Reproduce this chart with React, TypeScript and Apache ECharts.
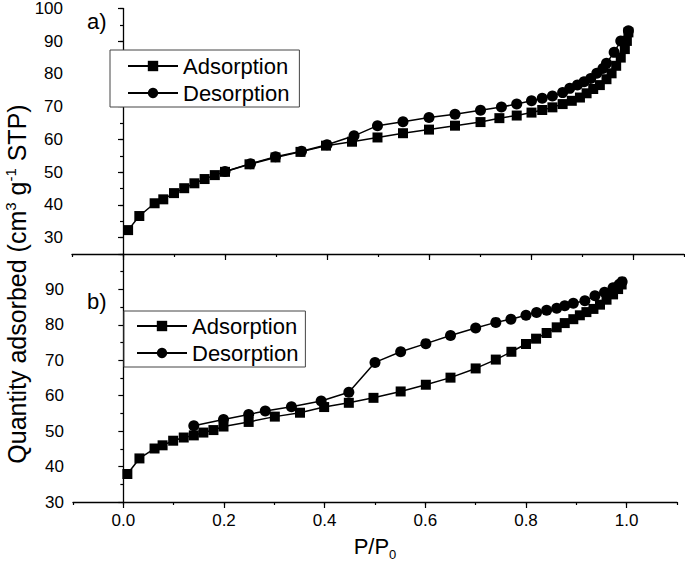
import React, { useEffect, useRef } from "react";
import * as echarts from "echarts";

const FONT = "'Liberation Sans', Arial, sans-serif";

const topAdsX = [0.010, 0.032, 0.062, 0.079, 0.100, 0.120, 0.140, 0.160, 0.180, 0.200, 0.248, 0.299, 0.348, 0.398, 0.449, 0.499, 0.549, 0.600, 0.651, 0.701, 0.738, 0.772, 0.801, 0.822, 0.842, 0.862, 0.880, 0.896, 0.909, 0.922, 0.935, 0.948, 0.958, 0.967, 0.976, 0.984, 0.988, 0.991];
const topAdsY = [32.3, 36.6, 40.5, 41.7, 43.6, 45.1, 46.6, 47.9, 49.1, 50.1, 52.4, 54.5, 56.2, 58.1, 59.3, 60.6, 61.9, 63.0, 64.2, 65.3, 66.5, 67.3, 68.2, 69.0, 69.8, 70.8, 71.8, 72.8, 74.1, 75.4, 76.6, 78.4, 80.2, 82.5, 85.0, 87.6, 90.1, 92.7];

const topDesX = [0.991, 0.976, 0.963, 0.948, 0.941, 0.929, 0.917, 0.904, 0.891, 0.876, 0.862, 0.842, 0.822, 0.801, 0.772, 0.742, 0.701, 0.651, 0.600, 0.549, 0.499, 0.453, 0.400, 0.350, 0.299, 0.250, 0.200];
const topDesY = [93.2, 90.1, 86.6, 83.3, 81.7, 80.2, 78.6, 77.6, 76.6, 75.6, 74.3, 73.3, 72.6, 71.8, 70.8, 69.9, 68.9, 67.7, 66.7, 65.4, 64.2, 61.1, 58.4, 56.4, 54.7, 52.6, 50.2];

const botAdsX = [0.008, 0.032, 0.062, 0.078, 0.099, 0.120, 0.140, 0.159, 0.179, 0.199, 0.249, 0.301, 0.351, 0.399, 0.448, 0.497, 0.551, 0.601, 0.650, 0.700, 0.740, 0.771, 0.800, 0.820, 0.841, 0.861, 0.877, 0.894, 0.907, 0.920, 0.934, 0.947, 0.960, 0.973, 0.983, 0.990];
const botAdsY = [37.9, 42.3, 45.1, 46.0, 47.3, 48.2, 48.8, 49.6, 50.3, 51.3, 52.6, 54.1, 55.2, 56.8, 58.0, 59.4, 61.2, 63.1, 65.1, 67.7, 70.2, 72.4, 74.6, 76.1, 77.7, 79.3, 80.5, 81.6, 82.7, 83.6, 84.5, 85.7, 87.1, 88.6, 90.1, 91.4];

const botDesX = [0.991, 0.985, 0.973, 0.956, 0.937, 0.917, 0.894, 0.877, 0.861, 0.841, 0.821, 0.800, 0.770, 0.740, 0.700, 0.650, 0.601, 0.551, 0.500, 0.448, 0.393, 0.334, 0.282, 0.249, 0.199, 0.140];
const botDesY = [92.2, 91.4, 90.5, 89.2, 88.2, 86.8, 86.1, 85.4, 84.7, 84.1, 83.5, 82.7, 81.6, 80.7, 79.1, 77.0, 74.7, 72.4, 69.4, 61.0, 58.5, 56.9, 55.7, 54.7, 53.3, 51.5];

const xMajorTicks = [0, 0.2, 0.4, 0.6, 0.8, 1.0];
const topYMajorTicks = [30, 40, 50, 60, 70, 80, 90, 100];
const seriesNames = ["Adsorption", "Desorption"];

const zip = (xs: number[], ys: number[]) => xs.map((x, i) => [x, ys[i]]);

export default function App() {
  const ref = useRef<HTMLDivElement>(null);
  useEffect(() => {
    if (!ref.current) return;
    const chart = echarts.init(ref.current, null, { renderer: "svg" });
    const axisLine = { show: true, lineStyle: { color: "#000", width: 1.3 } };
    const labelStyle = { color: "#000", fontSize: 17, fontFamily: FONT };
    const line = { color: "#000", width: 1.5 };
    const legendBase = {
      orient: "vertical",
      data: seriesNames,
      itemWidth: 50,
      itemHeight: 13,
      itemGap: 5,
      textStyle: { color: "#000", fontSize: 22, fontFamily: FONT },
      borderColor: "#444",
      borderWidth: 1,
      backgroundColor: "#fff",
      selectedMode: false,
      inactiveColor: "#000",
    };
    chart.setOption({
      animation: false,
      backgroundColor: "#fff",
      grid: [
        { left: 72, top: 7, width: 612, height: 247 },
        { left: 73, top: 254, width: 604, height: 248 },
      ],
      xAxis: [
        {
          gridIndex: 0, type: "value", min: -0.1, max: 1.1, position: "bottom",
          axisLine, splitLine: { show: false },
          axisTick: { show: true, length: 6, customValues: xMajorTicks, lineStyle: { color: "#000", width: 1.2 } },
          axisLabel: { show: false },
        },
        {
          gridIndex: 0, type: "value", min: -0.1, max: 1.1, interval: 0.1, position: "bottom",
          axisLine: { show: false }, splitLine: { show: false },
          axisTick: { show: true, length: 3, lineStyle: { color: "#000", width: 1.2 } },
          axisLabel: { show: false },
        },
        {
          gridIndex: 1, type: "value", min: -0.1, max: 1.1, position: "bottom",
          axisLine, splitLine: { show: false },
          axisTick: { show: true, length: 6, customValues: xMajorTicks, lineStyle: { color: "#000", width: 1.2 } },
          axisLabel: { ...labelStyle, margin: 10, customValues: xMajorTicks, formatter: (v: number) => v.toFixed(1) },
        },
        {
          gridIndex: 1, type: "value", min: -0.1, max: 1.1, interval: 0.1, position: "bottom",
          axisLine: { show: false }, splitLine: { show: false },
          axisTick: { show: true, length: 3, lineStyle: { color: "#000", width: 1.2 } },
          axisLabel: { show: false },
        },
      ],
      yAxis: [
        {
          gridIndex: 0, type: "value", min: 25, max: 100, position: "left",
          axisLine, splitLine: { show: false },
          axisTick: { show: true, length: 5, customValues: topYMajorTicks, lineStyle: { color: "#000", width: 1.2 } },
          axisLabel: { ...labelStyle, margin: 9, customValues: topYMajorTicks },
        },
        {
          gridIndex: 0, type: "value", min: 25, max: 100, interval: 5, position: "left",
          axisLine: { show: false }, splitLine: { show: false },
          axisTick: { show: true, length: 3, lineStyle: { color: "#000", width: 1.2 } },
          axisLabel: { show: false },
        },
        {
          gridIndex: 1, type: "value", min: 30, max: 100, interval: 10, position: "left",
          axisLine, splitLine: { show: false },
          axisTick: { show: true, length: 5, lineStyle: { color: "#000", width: 1.2 } },
          minorTick: { show: true, splitNumber: 2, length: 3, lineStyle: { color: "#000", width: 1.2 } },
          axisLabel: { ...labelStyle, margin: 9, showMaxLabel: false },
        },
      ],
      legend: [
        { ...legendBase, left: 110, top: 50, padding: [5, 10, 3, 17] },
        { ...legendBase, left: 124, top: 311, padding: [4, 7, 3, 12] },
      ],
      graphic: [
        { type: "text", left: 87, top: 10, style: { text: "a)", fontSize: 22, fontFamily: FONT, fill: "#000" } },
        { type: "text", left: 87, top: 290, style: { text: "b)", fontSize: 22, fontFamily: FONT, fill: "#000" } },
        {
          type: "text", x: 16, y: 284, rotation: Math.PI / 2,
          style: {
            text: "{n|Quantity adsorbed (cm}{s|3}{n| g}{s|-1}{n| STP)}",
            align: "center", verticalAlign: "middle", fill: "#000",
            rich: {
              n: { fontSize: 25, fontFamily: FONT, fill: "#000", lineHeight: 27, verticalAlign: "bottom" },
              s: { fontSize: 15, fontFamily: FONT, fill: "#000", lineHeight: 27, verticalAlign: "top" },
            },
          },
        },
        {
          type: "text", x: 375, y: 548,
          style: {
            text: "{n|P/P}{s|0}",
            align: "center", verticalAlign: "middle", fill: "#000",
            rich: {
              n: { fontSize: 22, fontFamily: FONT, fill: "#000", lineHeight: 26, verticalAlign: "top" },
              s: { fontSize: 13, fontFamily: FONT, fill: "#000", lineHeight: 26, verticalAlign: "bottom" },
            },
          },
        },
      ],
      series: [
        { name: "Adsorption", type: "line", xAxisIndex: 0, yAxisIndex: 0, data: zip(topAdsX, topAdsY), symbol: "rect", symbolSize: 10, lineStyle: line, itemStyle: { color: "#000" } },
        { name: "Desorption", type: "line", xAxisIndex: 0, yAxisIndex: 0, data: zip(topDesX, topDesY), symbol: "circle", symbolSize: 11, lineStyle: line, itemStyle: { color: "#000" } },
        { name: "Adsorption", type: "line", xAxisIndex: 2, yAxisIndex: 2, data: zip(botAdsX, botAdsY), symbol: "rect", symbolSize: 10, lineStyle: line, itemStyle: { color: "#000" } },
        { name: "Desorption", type: "line", xAxisIndex: 2, yAxisIndex: 2, data: zip(botDesX, botDesY), symbol: "circle", symbolSize: 11, lineStyle: line, itemStyle: { color: "#000" } },
      ],
    });
    return () => chart.dispose();
  }, []);
  return (
    <div
      ref={ref}
      style={{ position: "fixed", left: 0, top: 0, width: 685, height: 568, background: "#fff" }}
    />
  );
}
